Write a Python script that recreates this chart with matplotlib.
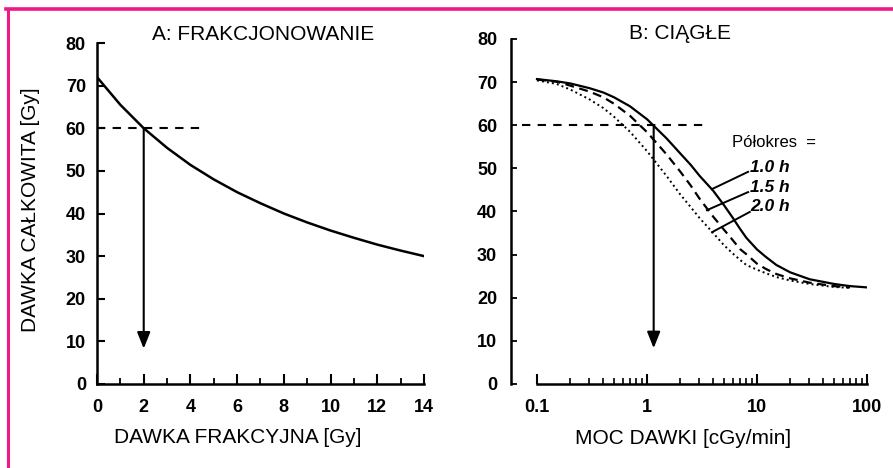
import matplotlib
matplotlib.use('Agg')
import matplotlib.pyplot as plt
from matplotlib.ticker import FixedLocator, NullFormatter

plt.rcParams['font.family'] = ['Liberation Sans', 'DejaVu Sans']

# --- dane ---
# A: frakcjonowanie
dawka_frakcyjna = [0, 1, 2, 3, 4, 5, 6, 7, 8, 9, 10, 11, 12, 13, 14]
dawka_calkowita_a = [72, 65.5, 60, 55.4, 51.4, 48, 45, 42.4, 40, 37.9, 36, 34.3, 32.7, 31.3, 30]

# B: napromienianie ciagle, moc dawki [cGy/min]
moc_dawki = [0.1, 0.15, 0.2, 0.3, 0.4, 0.5, 0.7, 1, 1.5, 2, 2.5, 3, 4, 5, 6, 7, 8, 10,
             12, 15, 20, 30, 50, 70, 100]
polokres_10 = [70.7, 70.2, 69.7, 68.6, 67.6, 66.5, 64.4, 61.4, 57.0, 53.5, 50.8, 48.3,
               44.8, 41.5, 38.6, 36.0, 33.9, 31.2, 29.5, 27.6, 25.9, 24.3, 23.2, 22.7, 22.4]
polokres_15 = [70.6, 70.1, 69.2, 67.8, 66.5, 65.0, 62.2, 58.4, 53.3, 49.3, 46.0, 43.0,
               38.8, 35.8, 33.4, 31.3, 30.1, 27.9, 26.7, 25.5, 24.5, 23.5, 22.7, 22.4]
polokres_20 = [70.4, 69.6, 68.3, 66.0, 64.0, 62.0, 58.5, 54.0, 48.3, 44.0, 41.0, 38.5,
               35.0, 32.2, 30.3, 28.8, 27.6, 26.5, 25.7, 24.8, 24.0, 23.2, 22.5, 22.3]

y_ticks = [0, 10, 20, 30, 40, 50, 60, 70, 80]
x_ticks_a = [0, 2, 4, 6, 8, 10, 12, 14]
x_ticks_b = [0.1, 1, 10, 100]
x_labels_b = ['0.1', '1', '10', '100']
x_minor_b = [m * d for d in (0.1, 1, 10) for m in range(2, 10)]

fig = plt.figure(figsize=(8.93, 4.68), dpi=100)
pink = '#ee1a87'

# ramka
fig.add_artist(plt.Line2D([0.007, 1.0], [1 - 9 / 468, 1 - 9 / 468], color=pink, lw=2.6))
fig.add_artist(plt.Line2D([7.5 / 893, 7.5 / 893], [0, 1 - 9 / 468], color=pink, lw=2.2))

tick_font = dict(fontsize=13, fontweight='bold')
lab_font = dict(fontsize=15)

# ---------------- panel A ----------------
axA = fig.add_axes([97 / 893, 1 - 384 / 468, 327 / 893, 341 / 468])
axA.plot(dawka_frakcyjna, dawka_calkowita_a, color='k', lw=1.8)
axA.plot([0, 4.65], [60, 60], color='k', lw=1.5, dashes=(4, 3.5))
axA.annotate('', xy=(2, 8.3), xytext=(2, 60),
             arrowprops=dict(arrowstyle='-|>,head_length=0.55,head_width=0.22',
                             lw=1.5, color='k', mutation_scale=18, shrinkA=0, shrinkB=0))
axA.set_xlim(0, 14)
axA.set_ylim(0, 80)
axA.set_xticks(x_ticks_a)
axA.set_xticks(range(1, 14, 2), minor=True)
axA.set_yticks(y_ticks)
axA.set_xticklabels([str(t) for t in x_ticks_a], **tick_font)
axA.set_yticklabels([str(t) for t in y_ticks], **tick_font)
axA.tick_params(axis='x', which='major', direction='in', length=7, width=1.5, pad=11)
axA.tick_params(axis='x', which='minor', direction='in', length=4, width=1.3)
axA.tick_params(axis='y', direction='in', length=6, width=1.5, pad=8)
for s in ['top', 'right']:
    axA.spines[s].set_visible(False)
for s in ['left', 'bottom']:
    axA.spines[s].set_linewidth(1.8)
axA.set_xlabel('DAWKA FRAKCYJNA [Gy]', va='center', **lab_font)
axA.xaxis.set_label_coords(0.43, -0.158)
axA.set_ylabel('DAWKA CAŁKOWITA [Gy]', va='center', **lab_font)
axA.yaxis.set_label_coords(-0.202, 0.51)
axA.text(0.508, 1.025, 'A: FRAKCJONOWANIE', transform=axA.transAxes,
         ha='center', va='center', **lab_font)

# ---------------- panel B ----------------
axB = fig.add_axes([511 / 893, 1 - 384 / 468, 356 / 893, 345 / 468])
axB.set_xscale('log')
axB.plot(moc_dawki, polokres_10, color='k', lw=1.6, solid_joinstyle='round')
axB.plot(moc_dawki[:-1], polokres_15, color='k', lw=1.6, dashes=(4, 2.5))
axB.plot(moc_dawki[:-1], polokres_20, color='k', lw=1.4, dashes=(1, 1.6))
axB.plot([0.073, 3.2], [60, 60], color='k', lw=1.5, dashes=(4, 3.5))
axB.annotate('', xy=(1.15, 8.3), xytext=(1.15, 60),
             arrowprops=dict(arrowstyle='-|>,head_length=0.55,head_width=0.22',
                             lw=1.5, color='k', mutation_scale=18, shrinkA=0, shrinkB=0))

# opisy polokresow
axB.text(5.9, 56.0, 'Półokres  =', ha='left', va='center', fontsize=12)
labels_h = ['1.0 h', '1.5 h', '2.0 h']
label_y = [50.1, 45.5, 41.1]
lead_start = [(3.9, 45.2), (3.5, 40.3), (3.9, 35.2)]
lead_end = [(8.3, 49.2), (8.3, 44.5), (8.6, 39.9)]
for txt, ly, p0, p1 in zip(labels_h, label_y, lead_start, lead_end):
    axB.plot([p0[0], p1[0]], [p0[1], p1[1]], color='k', lw=1.4)
    axB.text(8.7, ly, txt, ha='left', va='center', fontsize=12.5,
             fontstyle='italic', fontweight='bold')

axB.set_xlim(10 ** (-1 - 26 / 110), 100)
axB.set_ylim(0, 80)
axB.spines['bottom'].set_bounds(0.1, 100)
axB.xaxis.set_major_locator(FixedLocator(x_ticks_b))
axB.xaxis.set_minor_locator(FixedLocator(x_minor_b))
axB.set_xticklabels(x_labels_b, **tick_font)
axB.xaxis.set_minor_formatter(NullFormatter())
axB.set_yticks(y_ticks)
axB.set_yticklabels([str(t) for t in y_ticks], **tick_font)
axB.tick_params(axis='x', which='major', direction='in', length=7, width=1.5, pad=11)
axB.tick_params(axis='x', which='minor', direction='in', length=4, width=1.2)
axB.tick_params(axis='y', direction='in', length=4, width=1.3, pad=10)
for s in ['top', 'right']:
    axB.spines[s].set_visible(False)
for s in ['left', 'bottom']:
    axB.spines[s].set_linewidth(1.8)
axB.set_xlabel('MOC DAWKI [cGy/min]', va='center', **lab_font)
axB.xaxis.set_label_coords(0.483, -0.157)
axB.text(0.475, 1.015, 'B: CIĄGŁE', transform=axB.transAxes,
         ha='center', va='center', **lab_font)

fig.savefig('out.png', dpi=100, facecolor='white')
